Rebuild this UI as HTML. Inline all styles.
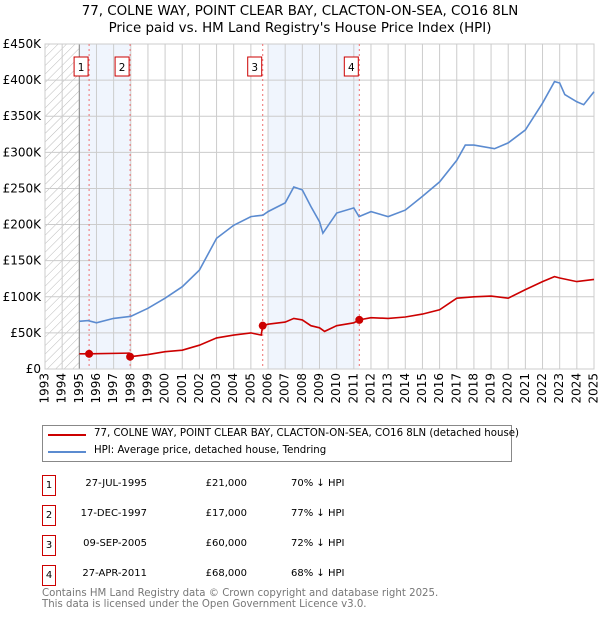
<!DOCTYPE html>
<html><head><meta charset="utf-8">
<style>
body{margin:0;background:#fff;font-family:"DejaVu Sans","Liberation Sans",sans-serif;}
#wrap{position:relative;width:600px;height:620px;overflow:hidden;}
.t{position:absolute;font-size:10px;color:#000;white-space:nowrap;}
.box{position:absolute;width:12px;height:19px;border:1px solid #c00;font-size:10px;text-align:center;line-height:19px;}
</style></head><body>
<div id="wrap">
<div class="t" style="left:0;width:600px;text-align:center;top:3px;font-size:13.4px;line-height:17px">77, COLNE WAY, POINT CLEAR BAY, CLACTON-ON-SEA, CO16 8LN<br>Price paid vs. HM Land Registry's House Price Index (HPI)</div>
<svg id="chart" width="600" height="420" style="position:absolute;left:0;top:0"></svg>
<div style="position:absolute;left:42px;top:425px;width:468px;height:35px;border:1px solid #888;">
 <div><div style="position:absolute;left:5px;top:8px;width:38px;height:2px;background:#c00"></div><div class="t" style="left:51px;top:2px;font-size:10.2px">77, COLNE WAY, POINT CLEAR BAY, CLACTON-ON-SEA, CO16 8LN (detached house)</div></div>
 <div><div style="position:absolute;left:5px;top:25px;width:38px;height:2px;background:#5b8bd0"></div><div class="t" style="left:51px;top:19px;font-size:10.2px">HPI: Average price, detached house, Tendring</div></div>
</div>
<div id="table"></div>
<div class="t" style="left:42px;top:589px;color:#777;font-size:10.2px;line-height:10.5px">Contains HM Land Registry data © Crown copyright and database right 2025.<br>This data is licensed under the Open Government Licence v3.0.</div>
</div>
<script>
const hpiYears=[1995,1995.5,1996,1997,1998,1999,2000,2001,2002,2003,2004,2005,2005.7,2006,2007,2007.5,2008,2008.5,2009,2009.2,2010,2011,2011.3,2012,2013,2014,2015,2016,2017,2017.5,2018,2019.2,2020,2021,2022,2022.7,2023,2023.3,2024,2024.4,2025];
const hpiValues=[66,67,64,70,73,84,98,114,137,181,199,211,213,218,230,252,248,225,204,188,216,223,211,218,211,220,239,259,289,310,310,305,313,331,368,398,396,380,370,366,384];
const redYears=[1995,1995.57,1997.9,1997.96,1999,2000,2001,2002,2003,2004,2005,2005.6,2005.69,2006,2007,2007.5,2008,2008.5,2009,2009.3,2010,2011,2011.32,2012,2013,2014,2015,2016,2017,2018,2019,2020,2021,2022,2022.7,2023,2024,2025];
const redValues=[21,21,22,17,20,24,26,33,43,47,50,47,60,62,65,70,68,60,57,52,60,64,68,71,70,72,76,82,98,100,101,98,110,121,128,126,121,124];
const saleLabels=["1","2","3","4"];
const saleYears=[1995.57,1997.96,2005.69,2011.32];
const salePrices=[21,17,60,68];
const saleDates=["27-JUL-1995","17-DEC-1997","09-SEP-2005","27-APR-2011"];
const salePriceText=["£21,000","£17,000","£60,000","£68,000"];
const saleDiff=["70% ↓ HPI","77% ↓ HPI","72% ↓ HPI","68% ↓ HPI"];
const shadeStarts=[1995,2006];const shadeEnds=[1998,2011.32];
const yTicks=[0,50,100,150,200,250,300,350,400,450];
const yTickLabels=["£0","£50K","£100K","£150K","£200K","£250K","£300K","£350K","£400K","£450K"];
const X0=45,X1=594,Y0=369,Y1=44,YR0=1993,YR1=2025;
const sx=y=>X0+(y-YR0)/(YR1-YR0)*(X1-X0);
const sy=v=>Y0-v/450*(Y0-Y1);
const NS="http://www.w3.org/2000/svg";
const svg=document.getElementById('chart');
function mk(tag,attrs,name,parent){const e=document.createElementNS(NS,tag);for(const k in attrs)e.setAttribute(k,attrs[k]);


(parent||svg).appendChild(e);return e;}
const defs=document.createElementNS(NS,'defs');defs.innerHTML='<pattern id="hatch" width="6" height="6" patternUnits="userSpaceOnUse" patternTransform="rotate(45)"><line x1="0" y1="0" x2="0" y2="6" stroke="#bbb" stroke-width="1"/></pattern>';svg.appendChild(defs);
mk('rect',{x:X0,y:Y1,width:sx(1995)-X0,height:Y0-Y1,fill:'url(#hatch)'},'no-data-hatch');
for(let i=0;i<shadeStarts.length;i++)mk('rect',{x:sx(shadeStarts[i]),y:Y1,width:sx(shadeEnds[i])-sx(shadeStarts[i]),height:Y0-Y1,fill:'#f0f5fd'},'sale-period-shade');
for(let y=YR0;y<=YR1;y++){mk('line',{x1:sx(y),x2:sx(y),y1:Y1,y2:Y0,stroke:'#ccc','stroke-width':1},'x-grid-line');
const t=mk('text',{x:sx(y),y:Y0+4,transform:`rotate(-90 ${sx(y)} ${Y0+4})`,'text-anchor':'end','dominant-baseline':'middle','font-size':12},'x-tick-label');t.textContent=y;}
yTicks.forEach((v,i)=>{mk('line',{x1:X0,x2:X1,y1:sy(v),y2:sy(v),stroke:'#ccc','stroke-width':1},'y-grid-line');
const t=mk('text',{x:X0-4,y:sy(v)+4,'text-anchor':'end','font-size':12},'y-tick-label');t.textContent=yTickLabels[i];});
mk('line',{x1:sx(1995),x2:sx(1995),y1:Y1,y2:Y0,stroke:'#888'},'data-start-line');
mk('rect',{x:X0,y:Y1,width:X1-X0,height:Y0-Y1,fill:'none',stroke:'#ccc'},'plot-frame');
saleYears.forEach((y,i)=>{mk('line',{x1:sx(y),x2:sx(y),y1:Y1,y2:Y0,stroke:'#f07070','stroke-dasharray':'2,3'},'sale-marker-line');
const g=mk('g',{},'sale-label-'+saleLabels[i]);
mk('rect',{x:sx(y)-15,y:57,width:14,height:19,fill:'#fff',stroke:'#c00'},'sale-label-box',g);
const t=mk('text',{x:sx(y)-8,y:71,'text-anchor':'middle','font-size':10.5},'sale-label-text',g);t.textContent=saleLabels[i];});
const pts=(xs,vs)=>xs.map((y,i)=>sx(y).toFixed(1)+','+sy(vs[i]).toFixed(1)).join(' ');
mk('polyline',{points:pts(hpiYears,hpiValues),fill:'none',stroke:'#5b8bd0','stroke-width':1.6},'hpi-line');
mk('polyline',{points:pts(redYears,redValues),fill:'none',stroke:'#c00','stroke-width':1.6},'price-paid-line');
saleYears.forEach((y,i)=>mk('circle',{cx:sx(y),cy:sy(salePrices[i]),r:4,fill:'#c00'},'sale-point'));
const tb=document.getElementById('table');
saleLabels.forEach((l,i)=>{const top=475+i*30;
const row=document.createElement('div');


row.innerHTML=`<div class="box" style="left:42px;top:${top}px">${l}</div><div class="t" style="left:60px;width:87px;text-align:right;top:${top+3}px">${saleDates[i]}</div><div class="t" style="left:180px;width:67px;text-align:right;top:${top+3}px">${salePriceText[i]}</div><div class="t" style="left:291px;top:${top+3}px">${saleDiff[i]}</div>`;
tb.appendChild(row);});
</script>
</body></html>
